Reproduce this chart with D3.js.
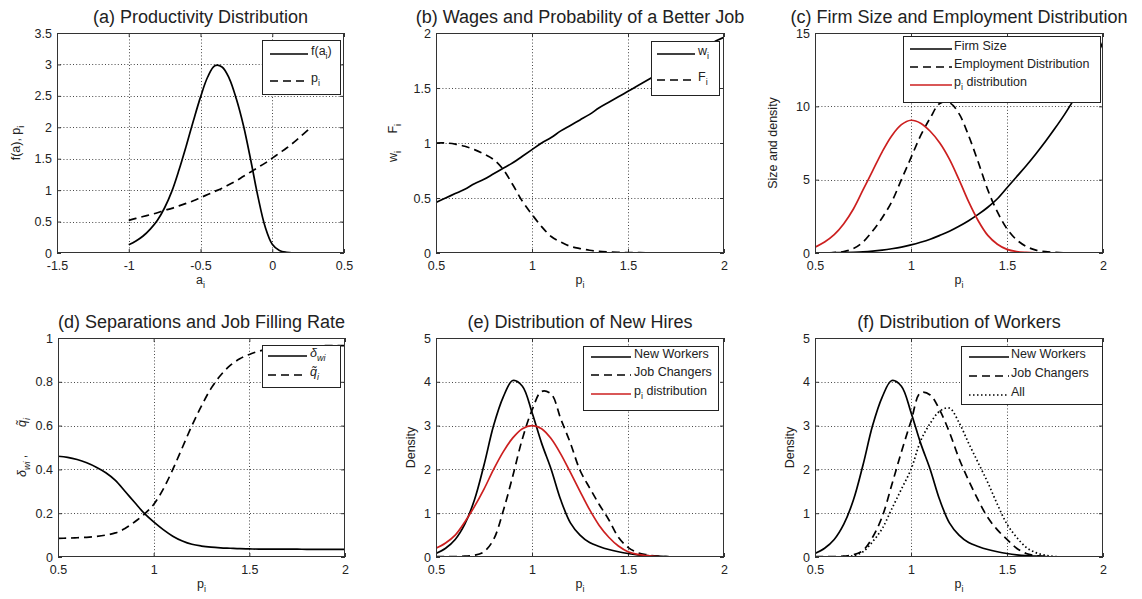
<!DOCTYPE html>
<html>
<head>
<meta charset="utf-8">
<script src="https://cdn.jsdelivr.net/npm/d3@7"></script>
<style>
  body { margin: 0; background: #fff; }
  svg { display: block; }
  text { font-family: "Liberation Sans", Arial, Helvetica, sans-serif; fill: #222; }
</style>
</head>
<body>
<svg id="fig" width="1142" height="599"></svg>
<script>
// ---------- data ----------
// (a) productivity draws a_i
const aGrid = [-1.00,-0.95,-0.90,-0.85,-0.80,-0.75,-0.70,-0.65,-0.60,-0.55,-0.50,-0.45,-0.40,-0.35,-0.30,-0.25,-0.20,-0.15,-0.10,-0.05,0.00,0.05,0.10,0.15,0.20,0.25];
const fDensity = [0.13,0.19,0.27,0.38,0.52,0.72,0.98,1.32,1.70,2.10,2.48,2.80,2.98,2.96,2.78,2.45,2.02,1.48,0.90,0.42,0.14,0.04,0.01,0.00,0.00,0.00];
const pOfA = [0.52,0.55,0.58,0.61,0.64,0.68,0.71,0.75,0.79,0.83,0.88,0.93,0.98,1.03,1.09,1.15,1.22,1.29,1.36,1.43,1.51,1.59,1.67,1.76,1.86,1.96];

// productivity p_i grid shared by panels (b)-(f)
const pGrid = [0.50,0.55,0.60,0.65,0.70,0.75,0.80,0.85,0.90,0.95,1.00,1.05,1.10,1.15,1.20,1.25,1.30,1.35,1.40,1.45,1.50,1.55,1.60,1.65,1.70,1.75,1.80,1.85,1.90,1.95,2.00];

// (b) wages and probability of a better job
const wage = [0.46,0.50,0.54,0.58,0.63,0.67,0.72,0.77,0.82,0.88,0.94,1.00,1.05,1.11,1.16,1.21,1.26,1.32,1.37,1.42,1.47,1.52,1.57,1.62,1.67,1.72,1.77,1.82,1.87,1.92,1.96];
const probBetter = [1.00,1.00,0.99,0.97,0.94,0.90,0.85,0.76,0.62,0.47,0.35,0.24,0.15,0.10,0.06,0.04,0.025,0.015,0.01,0.006,0.004,0.003,0.002,0.002,0.001,0.001,0.001,0.001,0.001,0.001,0.001];

// (c) firm size and employment
const firmSize = [0.00,0.01,0.02,0.03,0.05,0.08,0.13,0.20,0.29,0.40,0.55,0.73,0.94,1.20,1.48,1.82,2.20,2.63,3.12,3.70,4.45,5.20,5.95,6.75,7.60,8.50,9.45,10.50,11.60,12.90,14.40];
const employmentDist = [0.00,0.01,0.03,0.10,0.30,0.75,1.50,2.40,3.50,5.00,6.50,8.00,9.20,10.20,10.25,9.50,8.00,6.20,4.30,2.80,1.65,0.90,0.45,0.20,0.09,0.04,0.01,0,0,0,0];
const pDistSize = [0.40,0.75,1.25,2.00,3.00,4.30,5.60,6.90,8.00,8.75,9.05,8.85,8.30,7.50,6.40,5.00,3.50,2.20,1.20,0.60,0.25,0.10,0.04,0.01,0,0,0,0,0,0,0];

// (d) separations and job filling rate
const separations = [0.460,0.455,0.445,0.430,0.410,0.385,0.350,0.300,0.250,0.200,0.160,0.125,0.095,0.073,0.058,0.050,0.045,0.042,0.040,0.038,0.037,0.036,0.036,0.036,0.036,0.036,0.035,0.035,0.035,0.035,0.035];
const fillRate = [0.085,0.086,0.088,0.090,0.094,0.100,0.110,0.130,0.160,0.195,0.240,0.310,0.400,0.500,0.600,0.690,0.770,0.830,0.875,0.905,0.925,0.940,0.950,0.955,0.960,0.962,0.963,0.964,0.965,0.965,0.965];

// (e) new hires, (f) workers
const newWorkers = [0.08,0.20,0.40,0.75,1.30,2.10,3.00,3.65,4.03,3.90,3.30,2.60,2.00,1.30,0.78,0.50,0.33,0.24,0.17,0.12,0.08,0.05,0.03,0.02,0.01,0,0,0,0,0,0];
const jobChangersHires = [0.01,0.01,0.01,0.02,0.04,0.12,0.40,1.05,1.85,2.70,3.35,3.78,3.72,3.15,2.60,1.98,1.58,1.20,0.85,0.45,0.22,0.10,0.05,0.02,0.01,0,0,0,0,0,0];
const pDistDensity = [0.20,0.32,0.50,0.80,1.15,1.55,2.00,2.40,2.72,2.93,3.00,2.93,2.70,2.35,1.93,1.50,1.08,0.72,0.45,0.25,0.12,0.06,0.03,0.01,0,0,0,0,0,0,0];
const jobChangersStock = [0.01,0.01,0.01,0.02,0.05,0.15,0.45,0.92,1.65,2.40,3.10,3.75,3.70,3.35,2.85,2.25,1.75,1.30,0.90,0.62,0.40,0.20,0.08,0.03,0.01,0,0,0,0,0,0];
const allWorkers = [0,0,0,0.01,0.03,0.12,0.35,0.65,1.10,1.55,2.00,2.65,3.05,3.33,3.40,3.07,2.60,2.15,1.70,1.20,0.75,0.45,0.22,0.10,0.04,0.01,0,0,0,0,0];

// tick values and labels
const ticksAx = [-1.5,-1,-0.5,0,0.5];
const ticksAxLabels = ["-1.5","-1","-0.5","0","0.5"];
const ticksAy = [0,0.5,1,1.5,2,2.5,3,3.5];
const ticksAyLabels = ["0","0.5","1","1.5","2","2.5","3","3.5"];
const ticksP = [0.5,1,1.5,2];
const ticksPLabels = ["0.5","1","1.5","2"];
const ticksBy = [0,0.5,1,1.5,2];
const ticksByLabels = ["0","0.5","1","1.5","2"];
const ticksCy = [0,5,10,15];
const ticksCyLabels = ["0","5","10","15"];
const ticksDy = [0,0.2,0.4,0.6,0.8,1];
const ticksDyLabels = ["0","0.2","0.4","0.6","0.8","1"];
const ticksEy = [0,1,2,3,4,5];
const ticksEyLabels = ["0","1","2","3","4","5"];

// ---------- drawing ----------
const svg = d3.select("#fig");
const RED = "#cc1f1f";
const dashes = { solid: null, dash: "8,5", dot: "1.5,2.5" };
const NB = "\u00a0";

// writes a sequence of plain / subscript / italic runs into a text element
function rich(textSel, parts, size) {
  let shifted = 0;
  parts.forEach(p => {
    const ts = textSel.append("tspan").text(p.t);
    const want = p.sub ? size * 0.32 : 0;
    if (want !== shifted) { ts.attr("dy", want - shifted); shifted = want; }
    if (p.sub) ts.attr("font-size", size * 0.72);
    if (p.it) ts.attr("font-style", "italic");
  });
}

const panels = [
  { box: [57, 33, 344, 253], xd: [-1.5, 0.5], yd: [0, 3.5],
    xt: ticksAx, xtl: ticksAxLabels, yt: ticksAy, ytl: ticksAyLabels,
    title: "(a) Productivity Distribution",
    xlabel: [{t: "a"}, {t: "i", sub: true}],
    ylabel: [{t: "f(a), p"}, {t: "i", sub: true}], ylabelX: 20,
    series: [
      { x: aGrid, y: fDensity, style: "solid", color: "#000" },
      { x: aGrid, y: pOfA, style: "dash", color: "#000" } ],
    legend: { box: [262, 40, 340, 94], line: [270, 308], tx: 311, rows: [54, 81],
      labels: [ [{t: "f(a"}, {t: "i", sub: true}, {t: ")"}], [{t: "p"}, {t: "i", sub: true}] ] } },
  { box: [436, 33, 724, 253], xd: [0.5, 2], yd: [0, 2],
    xt: ticksP, xtl: ticksPLabels, yt: ticksBy, ytl: ticksByLabels,
    title: "(b) Wages and Probability of a Better Job",
    xlabel: [{t: "p"}, {t: "i", sub: true}],
    ylabel: [{t: "w"}, {t: "i", sub: true}, {t: NB + NB + NB + NB + NB + "F"}, {t: "i", sub: true}], ylabelX: 397,
    series: [
      { x: pGrid, y: wage, style: "solid", color: "#000" },
      { x: pGrid, y: probBetter, style: "dash", color: "#000" } ],
    legend: { box: [651, 41, 719, 95], line: [657, 695], tx: 698, rows: [54, 80],
      labels: [ [{t: "w"}, {t: "i", sub: true}], [{t: "F"}, {t: "i", sub: true}] ] } },
  { box: [815, 33, 1103, 253], xd: [0.5, 2], yd: [0, 15],
    xt: ticksP, xtl: ticksPLabels, yt: ticksCy, ytl: ticksCyLabels,
    title: "(c) Firm Size and Employment Distribution",
    xlabel: [{t: "p"}, {t: "i", sub: true}],
    ylabel: [{t: "Size and density"}], ylabelX: 777,
    series: [
      { x: pGrid, y: firmSize, style: "solid", color: "#000" },
      { x: pGrid, y: employmentDist, style: "dash", color: "#000" },
      { x: pGrid, y: pDistSize, style: "solid", color: RED } ],
    legend: { box: [903, 36, 1100, 102], line: [910, 952], tx: 954, rows: [49, 67, 85],
      labels: [ [{t: "Firm Size"}], [{t: "Employment Distribution"}], [{t: "p"}, {t: "i", sub: true}, {t: " distribution"}] ] } },
  { box: [58, 338, 345, 557], xd: [0.5, 2], yd: [0, 1],
    xt: ticksP, xtl: ticksPLabels, yt: ticksDy, ytl: ticksDyLabels,
    title: "(d) Separations and Job Filling Rate",
    xlabel: [{t: "p"}, {t: "i", sub: true}],
    ylabel: [{t: "δ", it: true}, {t: "wi", sub: true, it: true}, {t: NB + "," + NB + NB + NB + NB + NB + NB + NB + NB}, {t: "q\u0303", it: true}, {t: "i", sub: true, it: true}], ylabelX: 26,
    series: [
      { x: pGrid, y: separations, style: "solid", color: "#000" },
      { x: pGrid, y: fillRate, style: "dash", color: "#000" } ],
    legend: { box: [262, 345, 340, 387], line: [268, 307], tx: 310, rows: [356, 375],
      labels: [ [{t: "δ", it: true}, {t: "wi", sub: true, it: true}], [{t: "q\u0303", it: true}, {t: "i", sub: true, it: true}] ] } },
  { box: [436, 338, 724, 557], xd: [0.5, 2], yd: [0, 5],
    xt: ticksP, xtl: ticksPLabels, yt: ticksEy, ytl: ticksEyLabels,
    title: "(e) Distribution of New Hires",
    xlabel: [{t: "p"}, {t: "i", sub: true}],
    ylabel: [{t: "Density"}], ylabelX: 415,
    series: [
      { x: pGrid, y: newWorkers, style: "solid", color: "#000" },
      { x: pGrid, y: jobChangersHires, style: "dash", color: "#000" },
      { x: pGrid, y: pDistDensity, style: "solid", color: RED } ],
    legend: { box: [583, 346, 718, 410], line: [591, 631], tx: 634, rows: [357, 375, 394],
      labels: [ [{t: "New Workers"}], [{t: "Job Changers"}], [{t: "p"}, {t: "i", sub: true}, {t: " distribution"}] ] } },
  { box: [815, 338, 1103, 557], xd: [0.5, 2], yd: [0, 5],
    xt: ticksP, xtl: ticksPLabels, yt: ticksEy, ytl: ticksEyLabels,
    title: "(f) Distribution of Workers",
    xlabel: [{t: "p"}, {t: "i", sub: true}],
    ylabel: [{t: "Density"}], ylabelX: 794,
    series: [
      { x: pGrid, y: newWorkers, style: "solid", color: "#000" },
      { x: pGrid, y: jobChangersStock, style: "dash", color: "#000" },
      { x: pGrid, y: allWorkers, style: "dot", color: "#000" } ],
    legend: { box: [961, 346, 1102, 404], line: [969, 1009], tx: 1011, rows: [357, 376, 395],
      labels: [ [{t: "New Workers"}], [{t: "Job Changers"}], [{t: "All"}] ] } }
];

panels.forEach((P, idx) => {
  const [l, t, r, b] = P.box;
  const x = d3.scaleLinear().domain(P.xd).range([l, r]);
  const y = d3.scaleLinear().domain(P.yd).range([b, t]);
  const g = svg.append("g");

  g.append("rect").attr("x", l).attr("y", t).attr("width", r - l).attr("height", b - t).attr("fill", "#fff");

  // dotted grid
  const grid = g.append("g").attr("stroke", "#333").attr("stroke-width", 0.9).attr("stroke-dasharray", "1,2.2");
  P.xt.forEach(v => { const px = Math.round(x(v)) + 0.5; if (px > l + 1 && px < r - 1) grid.append("line").attr("x1", px).attr("x2", px).attr("y1", t).attr("y2", b); });
  P.yt.forEach(v => { const py = Math.round(y(v)) + 0.5; if (py > t + 1 && py < b - 1) grid.append("line").attr("x1", l).attr("x2", r).attr("y1", py).attr("y2", py); });

  // axes with inward ticks
  const fmtX = d => P.xtl[P.xt.indexOf(d)];
  const fmtY = d => P.ytl[P.yt.indexOf(d)];
  const axB = g.append("g").attr("transform", `translate(0,${b})`)
    .call(d3.axisBottom(x).tickValues(P.xt).tickFormat(fmtX).tickSize(-4).tickPadding(8));
  const axL = g.append("g").attr("transform", `translate(${l},0)`)
    .call(d3.axisLeft(y).tickValues(P.yt).tickFormat(fmtY).tickSize(-4).tickPadding(5));
  const axT = g.append("g").attr("transform", `translate(0,${t})`)
    .call(d3.axisTop(x).tickValues(P.xt).tickFormat("").tickSize(-4));
  const axR = g.append("g").attr("transform", `translate(${r},0)`)
    .call(d3.axisRight(y).tickValues(P.yt).tickFormat("").tickSize(-4));
  [axB, axL, axT, axR].forEach(a => {
    a.select(".domain").remove();
    a.selectAll("line").attr("stroke", "#333");
    a.selectAll("text").attr("font-size", 12.5).attr("fill", "#222")
      .attr("font-family", "'Liberation Sans', Arial, sans-serif");
  });

  // curves
  const clipId = "clip" + idx;
  svg.append("clipPath").attr("id", clipId).append("rect")
    .attr("x", l).attr("y", t - 1).attr("width", r - l).attr("height", b - t + 1);
  const curves = g.append("g").attr("clip-path", `url(#${clipId})`);
  P.series.forEach(s => {
    const pts = s.x.map((xv, i) => [xv, s.y[i]]);
    curves.append("path")
      .attr("d", d3.line().x(d => x(d[0])).y(d => Math.min(y(d[1]), b)).curve(d3.curveCatmullRom.alpha(0.5))(pts))
      .attr("fill", "none").attr("stroke", s.color).attr("stroke-width", 1.7)
      .attr("stroke-dasharray", dashes[s.style]).attr("stroke-linejoin", "round");
  });

  // box
  g.append("rect").attr("x", l + 0.5).attr("y", t + 0.5).attr("width", r - l - 1).attr("height", b - t - 1)
    .attr("fill", "none").attr("stroke", "#333").attr("stroke-width", 1);

  // title
  g.append("text").attr("x", (l + r) / 2).attr("y", t - 10).attr("text-anchor", "middle")
    .attr("font-size", 18).attr("fill", "#111").text(P.title);

  // x label
  const xl = g.append("text").attr("x", (l + r) / 2).attr("y", b + 31).attr("text-anchor", "middle").attr("font-size", 12.5);
  rich(xl, P.xlabel, 12.5);

  // y label
  const yl = g.append("text").attr("transform", `translate(${P.ylabelX},${(t + b) / 2}) rotate(-90)`)
    .attr("text-anchor", "middle").attr("font-size", 12.5);
  rich(yl, P.ylabel, 12.5);

  // legend
  const L = P.legend;
  const lg = g.append("g");
  lg.append("rect").attr("x", L.box[0] + 0.5).attr("y", L.box[1] + 0.5)
    .attr("width", L.box[2] - L.box[0]).attr("height", L.box[3] - L.box[1])
    .attr("fill", "#fff").attr("stroke", "#222").attr("stroke-width", 1);
  P.series.forEach((s, i) => {
    const ry = L.rows[i];
    lg.append("line").attr("x1", L.line[0]).attr("x2", L.line[1]).attr("y1", ry).attr("y2", ry)
      .attr("stroke", s.color).attr("stroke-width", 1.7).attr("stroke-dasharray", dashes[s.style]);
    const tx = lg.append("text").attr("x", L.tx).attr("y", ry).attr("dy", "0.1em").attr("font-size", 12.5);
    rich(tx, L.labels[i], 12.5);
  });
});
</script>
</body>
</html>
